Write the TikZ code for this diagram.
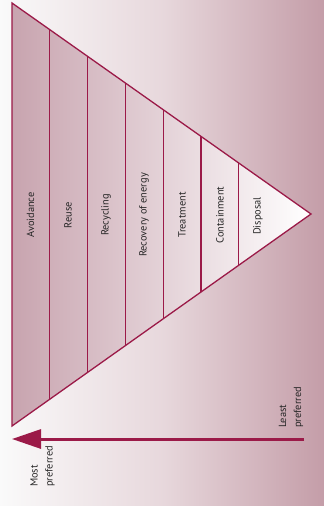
\documentclass[tikz,border=0pt]{standalone}
\usepackage{fontspec}
\setmainfont{PT Sans}
\usepackage{tikz}
\usetikzlibrary{positioning, calc, arrows.meta}

\definecolor{wine}{RGB}{155,26,72}
\definecolor{blush}{RGB}{196,157,168}
\definecolor{rose}{RGB}{200,164,175}

\begin{document}
\begin{tikzpicture} [x=1pt,y=-1pt,
	rule/.style={draw=wine, line width=1.3pt},
	lbl/.style={rotate=90, font=\fontsize{10.4}{11}\selectfont, text=black!85, inner sep=1pt},
	pref/.style={lbl, align=left, font=\fontsize{10.4}{15}\selectfont}]
	% background
	\shade[left color=white!96!gray, right color=blush, middle color=blush!40] (0,0) rectangle (324,505);
	\useasboundingbox (0,0) rectangle (324,515);
	
	\coordinate (tl) at (12,3);
	\coordinate (bl) at (12,426);
	\coordinate (tip) at (311,214);
	\shade[left color=rose, right color=white] (tl) -- (tip) -- (bl) -- cycle;
	\foreach \i in {1,...,6}
	\draw[rule] ($(tl)!\i*0.1264!(tip)$) -- ($(bl)!\i*0.1264!(tip)$);
	\draw[rule, line join=miter] (tl) -- (tip) -- (bl) -- cycle;
	
	\node[lbl] (avoid) at (30.5,215) {Avoidance};
	\node[lbl] (reuse) at (68,215) {Reuse};
	\node[lbl] (recyc) at (106,215) {Recycling};
	\node[lbl] (recov) at (144,215) {Recovery of energy};
	\node[lbl] (treat) at (182,215) {Treatment};
	\node[lbl] (contain) at (220,215) {Containment};
	\node[lbl] (dispose) at (258,216) {Disposal};
	
	% preference arrow
	\coordinate (least) at (304,439);
	\coordinate (most) at (12,439);
	\draw[wine, line width=3pt, -{Triangle[length=29pt, width=19pt]}] (least) -- (most);
	\node[pref, anchor=west] (lp) at (291,429) {Least\\preferred};
	\node[pref, anchor=west] (mp) at (42.5,488) {Most\\preferred};
\end{tikzpicture}
\end{document}
